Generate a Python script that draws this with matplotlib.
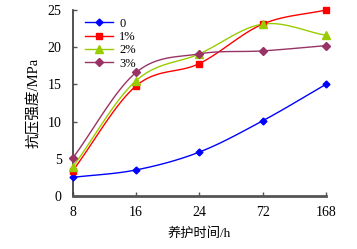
import numpy as np
import matplotlib.pyplot as plt

# curing time categories and compressive strength (MPa)
times = ["8", "16", "24", "72", "168"]
s0 = [2.5, 3.5, 5.9, 10.1, 15.0]
s1 = [3.4, 14.8, 17.8, 23.1, 25.0]
s2 = [3.9, 15.5, 19.1, 23.1, 21.6]
s3 = [5.1, 16.6, 19.1, 19.5, 20.2]

labels = ["0", "1%", "2%", "3%"]
series = [s0, s1, s2, s3]
colors = ["#0000FF", "#FF0000", "#99CC00", "#993366"]
markers = ["D", "s", "^", "D"]
msizes = [3.5, 5, 5.5, 4.5]

plt.rcParams['font.family'] = ['Liberation Serif', 'Noto Sans CJK SC']


def smooth(x, y, n=20):
    # Catmull-Rom style curve through the points (like Excel smoothed lines)
    x = np.asarray(x, float)
    y = np.asarray(y, float)
    px = np.concatenate([[2 * x[0] - x[1]], x, [2 * x[-1] - x[-2]]])
    py = np.concatenate([[2 * y[0] - y[1]], y, [2 * y[-1] - y[-2]]])
    xs, ys = [], []
    t = np.linspace(0, 1, n)
    for i in range(1, len(px) - 2):
        for p, out in ((px, xs), (py, ys)):
            p0, p1, p2, p3 = p[i - 1], p[i], p[i + 1], p[i + 2]
            out.extend(0.5 * ((2 * p1) + (-p0 + p2) * t
                              + (2 * p0 - 5 * p1 + 4 * p2 - p3) * t ** 2
                              + (-p0 + 3 * p1 - 3 * p2 + p3) * t ** 3))
    return xs, ys


fig = plt.figure(figsize=(3.57, 2.49), dpi=100)
ax = fig.add_axes([0.204, 0.213, 0.709, 0.747])

x = np.arange(len(times))
for ys, lab, c, m, ms in zip(series, labels, colors, markers, msizes):
    sx, sy = smooth(x, ys)
    ax.plot(sx, sy, color=c, lw=1.0, clip_on=False)
    ax.plot(x, ys, color=c, lw=0, marker=m, ms=ms, clip_on=False, zorder=3)
    ax.plot([], [], color=c, lw=1.0, marker=m, ms=ms, label=lab)

ax.set_xlim(0, 4)
ax.set_ylim(0, 25)
ax.set_xticks(x)
ax.set_xticklabels(times)
ax.set_yticks([0, 5, 10, 15, 20, 25])
ax.tick_params(direction='in', length=3, width=1, labelsize=10, color='#555555')
ax.tick_params(axis='y', pad=8)
ax.tick_params(axis='x', pad=7)
for s in ['top', 'right']:
    ax.spines[s].set_visible(False)
ax.spines['left'].set_linewidth(1.2)
ax.spines['left'].set_color('#333333')
ax.spines['bottom'].set_linewidth(2)
ax.spines['bottom'].set_color('#555555')

ax.set_xlabel("养护时间/h", fontsize=9.5, labelpad=6)
ax.set_ylabel("抗压强度/MPa", fontsize=10.5, labelpad=5)

ax.legend(loc='upper left', bbox_to_anchor=(0.03, 0.985), frameon=False,
          fontsize=9, handlelength=2.2, handletextpad=0.5,
          labelspacing=0.1, borderaxespad=0.0)

fig.savefig("out.png", dpi=100)
